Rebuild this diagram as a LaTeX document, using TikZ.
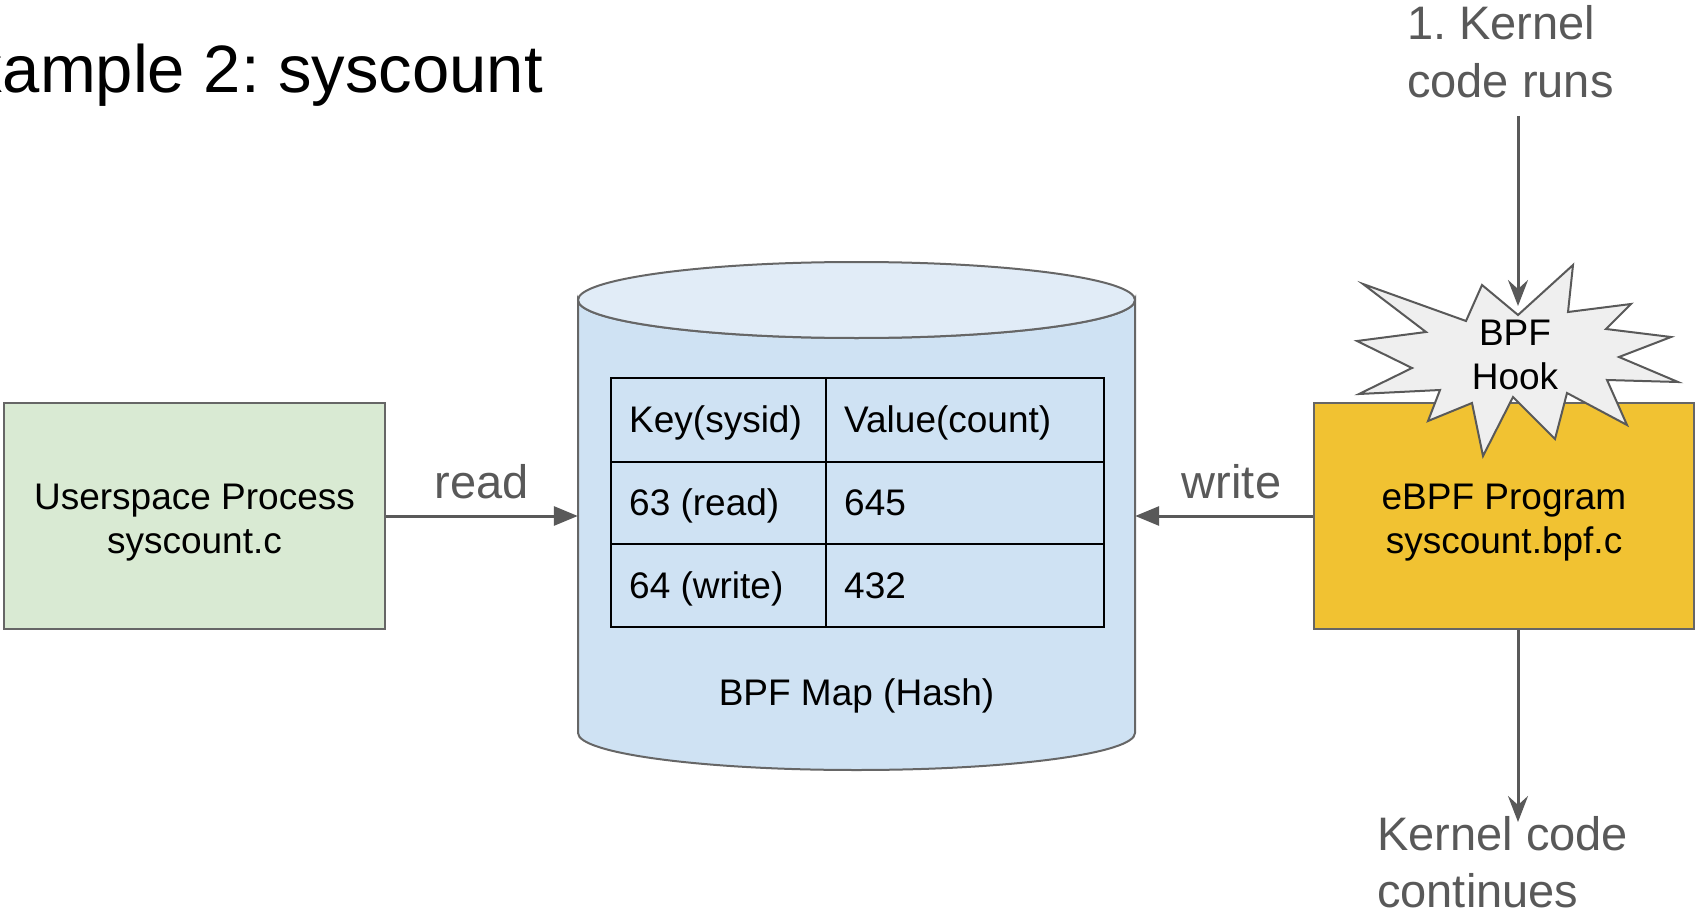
\documentclass[tikz,border=0pt]{standalone}
\usepackage{fontspec}
\setmainfont{Liberation Sans}
\usetikzlibrary{arrows.meta}
\frenchspacing

\definecolor{edge}{HTML}{666666}
\definecolor{ink}{HTML}{595959}
\definecolor{procgreen}{HTML}{D9EAD3}
\definecolor{proggold}{HTML}{F1C232}
\definecolor{mapblue}{HTML}{CFE2F3}
\definecolor{maptop}{HTML}{E1ECF7}
\definecolor{burst}{HTML}{EFEFEF}

\begin{document}
\begin{tikzpicture}[x=1pt,y=-1pt,
  bodytext/.style={font=\fontsize{37}{44}\selectfont, text=black},
  box/.style={draw=edge, line width=2pt, inner sep=0pt},
  boxtext/.style={bodytext, align=center, inner sep=0pt},
  celltext/.style={bodytext, anchor=base west, inner sep=0pt},
  note/.style={font=\fontsize{47}{56}\selectfont, text=ink, inner sep=0pt},
  flow/.style={draw=ink, line width=3pt, -{Triangle[length=24pt,width=19pt]}},
  kflow/.style={draw=ink, line width=3pt, -{Stealth[length=26pt,width=20pt,inset=9pt]}},
  grid/.style={draw=black, line width=2.5pt}
]
\clip (0,0) rectangle (1695,915);
\fill[white] (0,0) rectangle (1695,915);

% title
\node[anchor=base east, inner sep=0pt, font=\fontsize{67}{80}\selectfont] (title) at (543,93) {Example 2: syscount};

% userspace process
\node[box, fill=procgreen, minimum width=381pt, minimum height=226pt] (user) at (194.5,516) {};
\node[boxtext] (usertext) at (194.5,523) {Userspace Process\\syscount.c};

% the map: a cylinder
\node[minimum width=557pt, minimum height=508pt, inner sep=0pt] (map) at (856.5,516) {};
\path[fill=mapblue, draw=edge, line width=2pt]
  (578,300) -- (578,733) arc[start angle=180, end angle=0, x radius=278.5, y radius=37]
  -- (1135,300) arc[start angle=0, end angle=180, x radius=278.5, y radius=38] -- cycle;
\draw[fill=maptop, draw=edge, line width=2pt] (856.5,300) ellipse[x radius=278.5, y radius=38];

% hash table inside the map
\draw[grid] (611,378) rectangle (1104,627);
\draw[grid] (826,378) -- (826,627);
\draw[grid] (611,462) -- (1104,462);
\draw[grid] (611,544) -- (1104,544);
\node[celltext] (k0) at (629,432) {Key(sysid)};
\node[celltext] (v0) at (844,432) {Value(count)};
\node[celltext] (k1) at (629,515) {63 (read)};
\node[celltext] (v1) at (844,515) {645};
\node[celltext] (k2) at (629,598) {64 (write)};
\node[celltext] (v2) at (844,598) {432};
\node[bodytext, anchor=base, inner sep=0pt] (maplabel) at (856.5,705) {BPF Map (Hash)};

% eBPF program
\node[box, fill=proggold, minimum width=380pt, minimum height=226pt] (prog) at (1504,516) {};
\node[boxtext] (progtext) at (1504,523) {eBPF Program\\syscount.bpf.c};

% hook burst
\draw[fill=burst, draw=ink, line width=2pt, line join=miter]
  (1363,284) -- (1466,321) -- (1482,285) -- (1518,315) -- (1573,265) -- (1568,312)
  -- (1631,304) -- (1606,329) -- (1671,337) -- (1619,357) -- (1678,382) -- (1607,380)
  -- (1627,425) -- (1567,393) -- (1555,439) -- (1513,397) -- (1483,456) -- (1472,403)
  -- (1428,421) -- (1440,390) -- (1359,394) -- (1412,368) -- (1357,341) -- (1426,332) -- cycle;
\node[boxtext] (hook) at (1515,355) {BPF\\Hook};

% kernel flow notes
\node[note, anchor=base west] (run1) at (1407,40) {1. Kernel};
\node[note, anchor=base west] (run2) at (1407,98) {code runs};
\node[note, anchor=base west] (cont1) at (1377,850) {Kernel code};
\node[note, anchor=base west] (cont2) at (1377,907) {continues};

\coordinate (runfoot) at (1518,116);
\coordinate (hooktip) at (1518,306);
\coordinate (conttip) at (1518,822);

% connectors
\draw[flow] (user.east) -- node[note, anchor=base, yshift=18pt] (readlbl) {read} (map.west);
\draw[flow] (prog.west) -- node[note, anchor=base, yshift=18pt, pos=0.458] (writelbl) {write} (map.east);
\draw[kflow] (runfoot) -- (hooktip);
\draw[kflow] (prog.south -| conttip) -- (conttip);
\end{tikzpicture}
\end{document}
